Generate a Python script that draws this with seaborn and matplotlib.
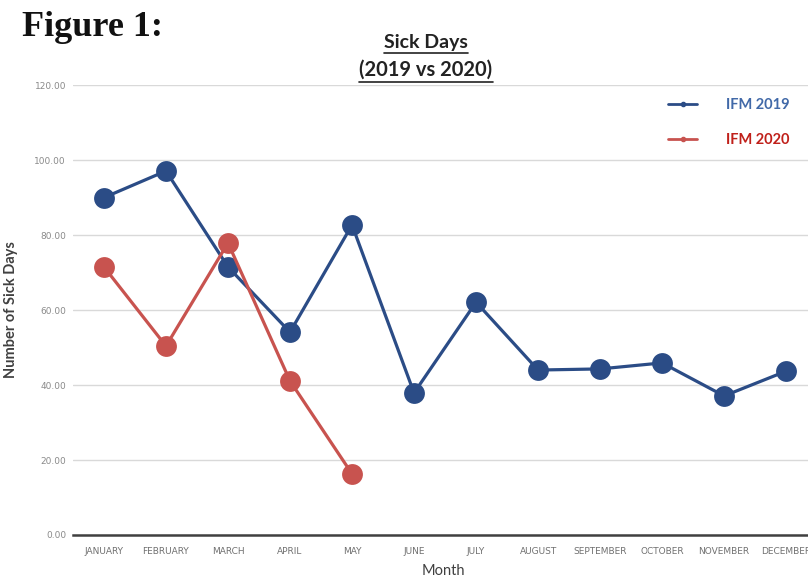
import numpy as np
import pandas as pd
import seaborn as sns
import matplotlib.pyplot as plt
from matplotlib.lines import Line2D

# Data
months = ['JANUARY', 'FEBRUARY', 'MARCH', 'APRIL', 'MAY', 'JUNE', 'JULY',
          'AUGUST', 'SEPTEMBER', 'OCTOBER', 'NOVEMBER', 'DECEMBER']
ifm_2019 = [90.0, 97.1, 71.5, 54.1, 82.7, 37.9, 62.1, 44.0, 44.3, 45.9, 37.1, 43.7]
ifm_2020 = [71.5, 50.4, 77.9, 41.1, 16.3]
series_names = ['IFM 2019', 'IFM 2020']
yticks = [0, 20, 40, 60, 80, 100, 120]

blue = '#2B4C86'
red = '#C8534F'

df = pd.concat([
    pd.DataFrame({'idx': range(len(ifm_2019)), 'days': ifm_2019, 'series': series_names[0]}),
    pd.DataFrame({'idx': range(len(ifm_2020)), 'days': ifm_2020, 'series': series_names[1]}),
])

sns.set_style('white')
plt.rcParams['font.family'] = ['Lato', 'DejaVu Sans']

fig = plt.figure(figsize=(8.08, 5.79), dpi=100)
ax = fig.add_axes([0.0903, 0.076, 0.921, 0.777])

sns.lineplot(data=df, x='idx', y='days', hue='series', palette=[blue, red],
             marker='o', markersize=15, markeredgewidth=0, linewidth=2.3,
             legend=False, ax=ax, zorder=3)

ax.set_xlim(-0.5, 11.5)
ax.set_ylim(0, 120)
ax.set_xticks(range(len(months)))
ax.set_xticklabels(months, fontsize=6.5, color='#707070',
                   family=['Liberation Sans Narrow', 'DejaVu Sans'])
ax.set_yticks(yticks)
ax.set_yticklabels([f'{v:.2f}' for v in yticks], fontsize=6.5, color='#8a8a8a',
                   family=['Liberation Sans Narrow', 'DejaVu Sans'])
ax.tick_params(axis='x', length=0, pad=9)
ax.tick_params(axis='y', length=0, pad=5)
ax.yaxis.grid(True, color='#d9d9d9', linewidth=1.0)
ax.set_axisbelow(True)
for s in ['top', 'right', 'left']:
    ax.spines[s].set_visible(False)
ax.spines['bottom'].set_color('#404040')
ax.spines['bottom'].set_linewidth(1.8)

ax.set_xlabel('Month', fontsize=10.5, color='#404040')
ax.set_ylabel('Number of Sick Days', fontsize=10.5, fontweight='bold', color='#404040')
ax.xaxis.set_label_coords(370 / 744, -29 / 450)
ax.yaxis.set_label_coords(-55 / 744, 0.5)

# Legend
handles = [Line2D([], [], color=blue, linewidth=2, marker='o', markersize=3),
           Line2D([], [], color=red, linewidth=2, marker='o', markersize=3)]
leg = fig.legend(handles, series_names, loc='upper left', bbox_to_anchor=(655 / 808, 1 - 85 / 579),
                 frameon=False, fontsize=10.5, handlelength=2.0, labelspacing=1.45, handletextpad=2.0)
leg.get_texts()[0].set_color('#4169A8')
leg.get_texts()[1].set_color('#C0201A')
for t in leg.get_texts():
    t.set_fontweight('bold')

# Figure label and titles
fig.text(22 / 808, 1 - 36 / 579, 'Figure 1:', fontsize=26, fontweight='bold',
         family=['Liberation Serif', 'DejaVu Serif'], color='#111111', va='baseline')
t1 = fig.text(426 / 808, 1 - 48 / 579, 'Sick Days', fontsize=14, fontweight='bold',
              color='#222222', ha='center', va='baseline')
t2 = fig.text(426 / 808, 1 - 76 / 579, '(2019 vs 2020)', fontsize=14.5, fontweight='bold',
              color='#222222', ha='center', va='baseline')

fig.canvas.draw()
renderer = fig.canvas.get_renderer()
for t in (t1, t2):
    bb = t.get_window_extent(renderer).transformed(fig.transFigure.inverted())
    yline = bb.y0 - 1.5 / 579
    fig.add_artist(Line2D([bb.x0, bb.x1], [yline, yline], transform=fig.transFigure,
                          color='#222222', linewidth=1.2))

fig.savefig('out.png', dpi=100)
